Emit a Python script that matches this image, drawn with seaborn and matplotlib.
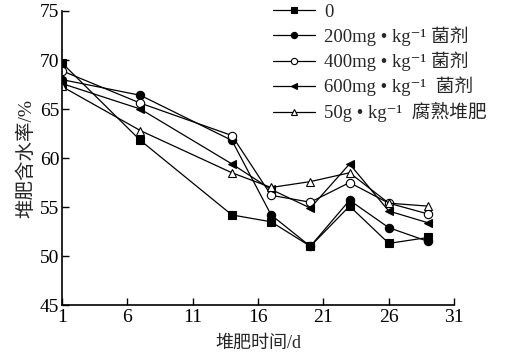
import pandas as pd
import matplotlib.pyplot as plt
import seaborn as sns

# Compost moisture content over time
days = [1, 7, 14, 17, 20, 23, 26, 29]
ctrl = [69.7, 61.8, 54.2, 53.5, 51.0, 55.1, 51.3, 51.9]
dose200 = [68.0, 66.4, 61.8, 54.2, 51.0, 55.7, 52.9, 51.5]
dose400 = [68.9, 65.6, 62.3, 56.2, 55.5, 57.5, 55.4, 54.3]
dose600 = [67.6, 65.0, 59.4, 56.8, 54.9, 59.4, 54.6, 53.4]
compost50 = [67.3, 62.8, 58.5, 57.0, 57.6, 58.5, 55.4, 55.1]

labels = ["0",
          "200mg • kg⁻¹ 菌剂",
          "400mg • kg⁻¹ 菌剂",
          "600mg • kg⁻¹  菌剂",
          "50g • kg⁻¹  腐熟堆肥"]
series = [ctrl, dose200, dose400, dose600, compost50]
markers = ["s", "o", "o", "<", "^"]
faces = ["black", "black", "white", "black", "white"]

sns.set_theme(style="ticks")
plt.rcParams["font.family"] = ["Liberation Serif", "DejaVu Serif", "Noto Sans CJK SC"]

fig, ax = plt.subplots(figsize=(5.12, 3.54), dpi=100)
fig.subplots_adjust(left=0.121, right=0.887, bottom=0.138, top=0.969)

for vals, lab, m, fc in zip(series, labels, markers, faces):
    df = pd.DataFrame({"day": days, "water": vals})
    sns.lineplot(data=df, x="day", y="water", ax=ax, color="black", lw=0.9,
                 marker=m, markersize=6, markerfacecolor=fc,
                 markeredgecolor="black", markeredgewidth=0.8, label=lab)

ax.set_xlim(1, 31)
ax.set_ylim(45, 75)
ax.set_xticks(range(1, 32, 5))
ax.set_yticks(range(45, 76, 5))
ax.tick_params(direction="in", labelsize=14, length=5, width=1, colors="black")
ax.tick_params(axis="x", pad=3)
ax.tick_params(axis="y", pad=2)
for s in ["left", "bottom"]:
    ax.spines[s].set_linewidth(1.2)
    ax.spines[s].set_color("black")
sns.despine(ax=ax)

ax.set_xlabel("堆肥时间/d", fontsize=13, labelpad=6)
ax.set_ylabel("堆肥含水率/%", fontsize=14, labelpad=3)

ax.legend(loc="upper left", bbox_to_anchor=(0.52, 1.05), frameon=False,
          fontsize=13.5, handlelength=2.2, handletextpad=0.5, labelspacing=0.3,
          borderaxespad=0, markerscale=0.75)

plt.savefig("out.png", dpi=100)
